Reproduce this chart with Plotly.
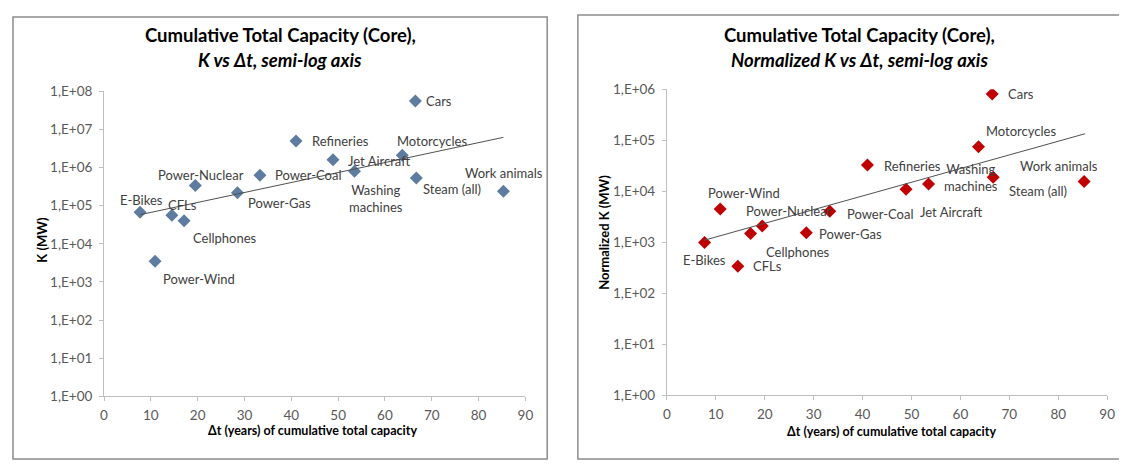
import numpy as np
import plotly.graph_objects as go

# ---------------- data ----------------
categories = ["Cars", "Refineries", "Jet Aircraft", "Motorcycles", "Washing machines",
              "Steam (all)", "Work animals", "Power-Coal", "Power-Gas", "Power-Nuclear",
              "E-Bikes", "CFLs", "Cellphones", "Power-Wind"]
delta_t = [66.5, 41.0, 48.9, 63.7, 53.5, 66.7, 85.3, 33.3, 28.5, 19.5, 7.7, 14.5, 17.1, 10.9]
k_mw = [5.6e7, 5.0e6, 1.6e6, 2.1e6, 8.0e5, 5.3e5, 2.4e5, 6.3e5, 2.2e5, 3.4e5,
        6.7e4, 5.6e4, 4.0e4, 3.5e3]
k_norm_mw = [8.1e5, 3.3e4, 1.1e4, 7.5e4, 1.4e4, 1.9e4, 1.56e4, 4.1e3, 1.55e3, 2.1e3,
             1.0e3, 3.4e2, 1.5e3, 4.5e3]
trend_left_x = [7.7, 85.3]
trend_left_y = [5.8e4, 6.2e6]
trend_right_x = [7.6, 85.5]
trend_right_y = [1.1e3, 1.35e5]
x_ticks = [0, 10, 20, 30, 40, 50, 60, 70, 80, 90]
y_left_ticks = [1e0, 1e1, 1e2, 1e3, 1e4, 1e5, 1e6, 1e7, 1e8]
y_left_ticktext = ["1,E+00", "1,E+01", "1,E+02", "1,E+03", "1,E+04", "1,E+05", "1,E+06", "1,E+07", "1,E+08"]
y_right_ticks = [1e0, 1e1, 1e2, 1e3, 1e4, 1e5, 1e6]
y_right_ticktext = ["1,E+00", "1,E+01", "1,E+02", "1,E+03", "1,E+04", "1,E+05", "1,E+06"]

# ---------------- label placement (style, px) ----------------
left_label_pos = {
    "Cars": ("left", 9, 0), "Refineries": ("left", 14, 0), "Jet Aircraft": ("left", 13, 1),
    "Motorcycles": ("center", 30, -14), "Washing machines": ("center", 21, 27),
    "Steam (all)": ("center", 36, 11), "Work animals": ("center", 1, -18),
    "Power-Coal": ("left", 13, 0), "Power-Gas": ("center", 42, 10),
    "Power-Nuclear": ("center", 6, -10), "E-Bikes": ("center", 1, -12),
    "CFLs": ("center", 11, -10), "Cellphones": ("center", 41, 17),
    "Power-Wind": ("center", 44, 18),
}
right_label_pos = {
    "Cars": ("left", 14, 0), "Motorcycles": ("center", 43, -16), "Refineries": ("left", 15, 1),
    "Washing machines": ("center", 42, -6), "Steam (all)": ("center", 45, 14),
    "Work animals": ("center", -25, -16), "Jet Aircraft": ("center", 45, 23),
    "Power-Coal": ("left", 15, 3), "Power-Wind": ("center", 24, -16),
    "Power-Nuclear": ("center", 27, -15), "Power-Gas": ("left", 11, 1),
    "Cellphones": ("center", 47, 19), "E-Bikes": ("center", 0, 18),
    "CFLs": ("left", 13, 0),
}

# page has a default 8px body margin: figure is placed at (8, 8)
OFF = 8
W, H = 1127 - OFF, 470 - OFF
FONT = "Lato"
LEFT_COLOR = "#5E7C9F"
RIGHT_COLOR = "#C00000"
AXIS_COLOR = "#BFBFBF"
TEXT_COLOR = "#404040"

def px_x(p):
    return (p - OFF) / W

def px_y(p):
    return 1 - (p - OFF) / H

fig = go.Figure()

fig.add_trace(go.Scatter(x=delta_t, y=k_mw, mode="markers", xaxis="x", yaxis="y",
                         marker=dict(symbol="diamond", size=10, color=LEFT_COLOR),
                         showlegend=False, hoverinfo="text", text=categories))
fig.add_trace(go.Scatter(x=trend_left_x, y=trend_left_y, mode="lines", xaxis="x", yaxis="y",
                         line=dict(color="#505050", width=1), showlegend=False))
fig.add_trace(go.Scatter(x=delta_t, y=k_norm_mw, mode="markers", xaxis="x2", yaxis="y2",
                         marker=dict(symbol="diamond", size=10, color=RIGHT_COLOR),
                         showlegend=False, hoverinfo="text", text=categories))
fig.add_trace(go.Scatter(x=trend_right_x, y=trend_right_y, mode="lines", xaxis="x2", yaxis="y2",
                         line=dict(color="#505050", width=1), showlegend=False))

annotations = []

def add_labels(xs, ys, pos, xref, yref):
    for name, xv, yv in zip(categories, xs, ys):
        anchor, dx, dy = pos[name]
        annotations.append(dict(
            x=xv, y=np.log10(yv), xref=xref, yref=yref, showarrow=False,
            text=name.replace("Washing machines", "Washing<br>machines"),
            xanchor=anchor, yanchor="middle", xshift=dx, yshift=-dy,
            font=dict(family=FONT, size=13, color=TEXT_COLOR)))

add_labels(delta_t, k_mw, left_label_pos, "x", "y")
add_labels(delta_t, k_norm_mw, right_label_pos, "x2", "y2")

# titles
for cx, line1, line2 in [(279, "Cumulative Total Capacity (Core),", "K vs \u0394t, semi-log axis"),
                         (865, "Cumulative Total Capacity (Core),", "Normalized K vs \u0394t, semi-log axis")]:
    annotations.append(dict(x=px_x(cx), y=px_y(28), xref="paper", yref="paper", showarrow=False,
                            text="<b>" + line1 + "</b>", xanchor="center", yanchor="middle",
                            font=dict(family=FONT, size=18.5, color="#000000")))
    annotations.append(dict(x=px_x(cx), y=px_y(54), xref="paper", yref="paper", showarrow=False,
                            text="<b><i>" + line2 + "</i></b>", xanchor="center", yanchor="middle",
                            font=dict(family=FONT, size=18.5, color="#000000")))

# axis titles
annotations.append(dict(x=px_x(312), y=px_y(437), xref="paper", yref="paper", showarrow=False,
                        text="<b>\u0394t (years) of cumulative total capacity</b>",
                        xanchor="center", yanchor="middle", font=dict(family=FONT, size=12.5, color="#000000")))
annotations.append(dict(x=px_x(897), y=px_y(438), xref="paper", yref="paper", showarrow=False,
                        text="<b>\u0394t (years) of cumulative total capacity</b>",
                        xanchor="center", yanchor="middle", font=dict(family=FONT, size=12.5, color="#000000")))
annotations.append(dict(x=px_x(38), y=px_y(240), xref="paper", yref="paper", showarrow=False,
                        text="<b>K (MW)</b>", textangle=-90,
                        xanchor="center", yanchor="middle", font=dict(family=FONT, size=13, color="#000000")))
annotations.append(dict(x=px_x(607), y=px_y(232), xref="paper", yref="paper", showarrow=False,
                        text="<b>Normalized K (MW)</b>", textangle=-90,
                        xanchor="center", yanchor="middle", font=dict(family=FONT, size=13, color="#000000")))

common_x = dict(range=[0, 90], tickmode="array", tickvals=x_ticks, showgrid=False, zeroline=False,
                showline=True, linecolor=AXIS_COLOR, linewidth=1, ticks="outside", ticklen=4,
                tickcolor=AXIS_COLOR, ticklabelstandoff=2,
                tickfont=dict(family=FONT, size=13.5, color="#595959"))
common_y = dict(type="log", showgrid=False, zeroline=False, showline=True, linecolor=AXIS_COLOR,
                linewidth=1, ticks="outside", ticklen=4, tickcolor=AXIS_COLOR, ticklabelstandoff=4,
                tickfont=dict(family=FONT, size=13.5, color="#595959"))

fig.update_layout(
    width=W, height=H, margin=dict(l=0, r=0, t=0, b=0),
    paper_bgcolor="white", plot_bgcolor="white",
    xaxis=dict(domain=[px_x(101), px_x(527)], anchor="y", **common_x),
    yaxis=dict(domain=[px_y(402), px_y(86)], anchor="x", range=[0, 8],
               tickvals=y_left_ticks, ticktext=y_left_ticktext, **common_y),
    xaxis2=dict(domain=[px_x(670), px_x(1115)], anchor="y2", **common_x),
    yaxis2=dict(domain=[px_y(401), px_y(84)], anchor="x2", range=[0, 6],
                tickvals=y_right_ticks, ticktext=y_right_ticktext, **common_y),
    annotations=annotations,
    shapes=[
        dict(type="rect", xref="paper", yref="paper", x0=px_x(9), x1=px_x(549), y0=px_y(467), y1=px_y(9),
             line=dict(color="#8C8C8C", width=1.5)),
        dict(type="rect", xref="paper", yref="paper", x0=px_x(580), x1=px_x(1135), y0=px_y(467), y1=px_y(7),
             line=dict(color="#8C8C8C", width=1.5)),
    ],
)

fig.write_html("out.html")
